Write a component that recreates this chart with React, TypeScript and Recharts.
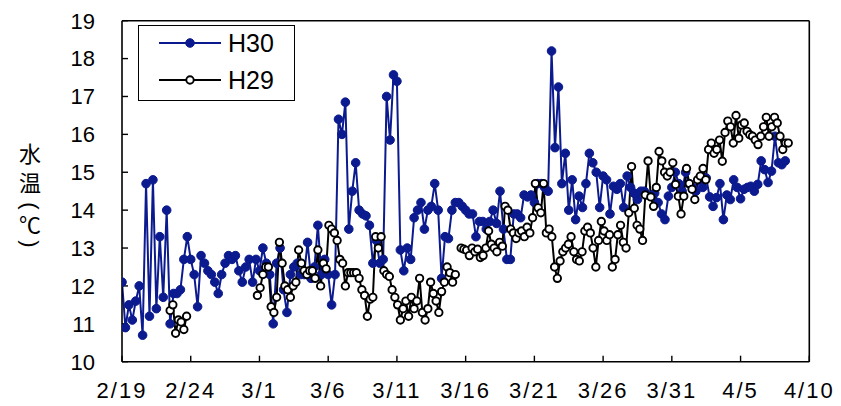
import React from 'react';
import { LineChart, Line, XAxis, YAxis } from 'recharts';

// x axis: days counted from 2/19
const DATE_LABELS = ['2/19', '2/24', '3/1', '3/6', '3/11', '3/16', '3/21', '3/26', '3/31', '4/5', '4/10'];
const X_TICKS = [0, 5, 10, 15, 20, 25, 30, 35, 40, 45, 50];
const Y_TICKS = [10, 11, 12, 13, 14, 15, 16, 17, 18, 19];

// H30: readings every 6 hours starting 2/19
const H30_START = 0;
const H30_STEP = 0.25;
const H30 = [
  12.1, 10.9, 11.5, 11.1, 11.6, 12.0, 10.7, 14.7, 11.2, 14.8,
  11.4, 13.3, 11.7, 14.0, 11.0, 11.8, 11.8, 11.9, 12.7, 13.3,
  12.7, 12.3, 11.45, 12.8, 12.6, 12.4, 12.3, 12.1, 11.8, 12.3,
  12.6, 12.8, 12.7, 12.8, 12.4, 12.1, 12.5, 12.7, 12.1, 12.7,
  12.4, 13.0, 12.6, 12.3, 11.0, 12.6, 13.0, 11.9, 11.3, 12.3,
  12.5, 12.6, 12.3, 12.3, 13.15, 12.2, 12.5, 13.6, 12.3, 12.7,
  12.3, 11.5, 12.3, 16.4, 16.0, 16.85, 13.5, 14.5, 15.25, 14.0,
  13.9, 13.85, 13.6, 12.6, 13.2, 12.6, 12.7, 17.0, 15.85, 17.57,
  17.4, 12.95, 12.4, 13.0, 12.7, 13.8, 14.0, 14.2, 13.5, 14.0,
  14.1, 14.7, 14.0, 12.2, 13.3, 13.25, 14.0, 14.2, 14.2, 14.1,
  14.0, 13.9, 13.9, 13.3, 13.7, 13.7, 13.5, 13.7, 14.0, 13.65,
  14.5, 13.5, 12.7, 12.7, 13.9, 13.9, 13.8, 14.4, 14.35, 14.4,
  14.2, 14.7, 14.7, 14.6, 14.5, 18.2, 15.65, 17.25, 14.7, 15.5,
  14.0, 14.8, 13.75, 14.37, 14.07, 14.7, 15.5, 15.25, 15.0, 14.07,
  14.9, 14.8, 13.9, 14.63, 14.55, 14.7, 14.07, 14.9, 14.6, 14.45,
  14.28, 14.5, 14.5, 14.4, 14.37, 14.45, 14.2, 13.9, 13.75, 14.37,
  14.6, 15.0, 14.7, 14.5, 15.0, 14.7, 14.6, 14.5, 14.8, 14.6,
  14.85, 14.35, 14.1, 14.33, 14.7, 13.75, 14.4, 14.28, 14.8, 14.6,
  14.3, 14.55, 14.6, 14.63, 14.5, 14.68, 15.3, 15.07, 14.73, 15.03,
  15.95, 15.25, 15.2, 15.3,
];

// H29: readings in three runs (gaps between them)
const H29_STEP = 0.2;
const H29_A_START = 3.5;
const H29_A = [11.35, 11.5, 10.75, 11.1, 11.05, 10.85, 11.2];
const H29_B_START = 9.85;
const H29_B = [
  11.75, 11.95, 12.3, 12.5, 12.5, 11.45, 11.3, 11.7, 13.15, 12.6,
  12.0, 11.9, 11.7, 12.0, 12.1, 12.95, 12.6, 12.4, 12.3, 12.4,
  12.4, 12.2, 12.95, 12.0, 12.6, 12.45, 13.6, 13.5, 13.4, 13.2,
  12.7, 12.6, 12.0, 12.35, 12.35, 12.35, 12.35, 12.2, 11.9, 11.75,
  11.2, 11.65, 11.7, 13.3, 13.0, 13.3, 12.4, 12.3, 12.25, 11.9,
  11.7, 11.5, 11.1, 11.4, 11.6, 11.2, 11.7, 11.4, 11.6, 12.2,
  11.3, 11.1, 11.4, 12.1, 11.8, 11.6, 11.3, 11.85, 12.1, 12.5,
  12.35, 12.1, 12.3,
];
const H29_C_START = 24.67;
const H29_C = [
  13.0, 12.97, 12.94, 12.8, 13.0, 12.9, 12.97, 12.75, 12.8, 13.0,
  13.45, 13.1, 13.0, 12.9, 13.15, 13.05, 14.1, 14.0, 13.5, 13.4,
  13.25, 13.4, 13.45, 13.3, 13.55, 13.4,
  13.8, 14.7, 14.06, 13.93, 14.7, 13.4, 13.5, 13.3, 12.5, 12.2,
  12.66, 12.9, 13.0, 13.1, 13.3, 12.9, 12.7, 12.66, 12.9, 13.45,
  13.55, 13.4, 13.0, 12.5, 13.2, 13.7, 13.45, 13.2, 13.35, 12.5,
  12.7, 13.35, 13.6, 13.15, 13.0, 13.93, 15.15, 14.05, 13.6, 13.5,
  13.2, 14.4, 15.3, 14.35, 14.1, 14.6, 15.55, 15.3, 15.0, 14.9, 15.0,
  15.25, 14.68, 14.37, 13.9, 14.37, 15.1, 14.7, 14.55, 14.28, 14.8,
  14.9, 15.1, 14.8, 15.6, 15.77, 15.5, 15.6, 15.85, 15.29, 16.05,
  16.35, 16.2, 15.77, 16.5, 15.9, 16.25, 16.3, 16.08, 15.99, 15.95,
  15.85, 15.73, 15.95, 16.2, 16.45, 15.95, 16.2, 16.45, 16.3, 15.95,
  15.6, 15.77, 15.77,
];

const BLUE = '#0b1a8e';

type Row = { day: number; v: number | null };

const run = (start: number, step: number, vals: number[]): Row[] =>
  vals.map((v, i) => ({ day: +(start + i * step).toFixed(4), v }));

const h30Data: Row[] = run(H30_START, H30_STEP, H30);

const h29A = run(H29_A_START, H29_STEP, H29_A);
const h29B = run(H29_B_START, H29_STEP, H29_B);
const h29C = run(H29_C_START, H29_STEP, H29_C);
const h29Data: Row[] = [
  ...h29A,
  { day: (h29A[h29A.length - 1].day + h29B[0].day) / 2, v: null },
  ...h29B,
  { day: (h29B[h29B.length - 1].day + h29C[0].day) / 2, v: null },
  ...h29C,
];

const FONT = 'Liberation Sans, Arial, sans-serif';
const tickFont = { fontFamily: FONT, fill: '#000' };

export default function App() {
  return (
    <div style={{ position: 'absolute', left: 0, top: 0, width: 841, height: 406, background: '#fff' }}>
      <LineChart
        width={841}
        height={406}
        margin={{ top: 19.7, right: 30.7, bottom: 4.3, left: 62 }}
      >
        <XAxis
          xAxisId="main"
          type="number"
          dataKey="day"
          domain={[0, 50]}
          ticks={X_TICKS}
          allowDataOverflow
          tickFormatter={(d: number) => DATE_LABELS[X_TICKS.indexOf(d)] ?? ''}
          height={40}
          tickSize={-6}
          tickMargin={27}
          axisLine={{ stroke: '#000', strokeWidth: 1.6 }}
          tickLine={{ stroke: '#000', strokeWidth: 1.4 }}
          tick={{ ...tickFont, fontSize: 22, letterSpacing: 2 }}
          interval={0}
        />
        <XAxis
          xAxisId="top"
          orientation="top"
          type="number"
          dataKey="day"
          domain={[0, 50]}
          height={1}
          tick={false}
          tickLine={false}
          axisLine={{ stroke: '#000', strokeWidth: 1.6 }}
        />
        <YAxis
          yAxisId="main"
          type="number"
          domain={[10, 19]}
          ticks={Y_TICKS}
          allowDataOverflow
          width={60}
          tickSize={-6}
          tickMargin={33}
          axisLine={{ stroke: '#000', strokeWidth: 1.6 }}
          tickLine={{ stroke: '#000', strokeWidth: 1.4 }}
          tick={{ ...tickFont, fontSize: 22 }}
          interval={0}
        />
        <YAxis
          yAxisId="right"
          orientation="right"
          type="number"
          domain={[10, 19]}
          width={1}
          tick={false}
          tickLine={false}
          axisLine={{ stroke: '#000', strokeWidth: 1.6 }}
        />
        <Line
          xAxisId="main"
          yAxisId="main"
          data={h30Data}
          dataKey="v"
          name="H30"
          type="linear"
          stroke={BLUE}
          strokeWidth={2}
          dot={{ r: 4.3, fill: BLUE, stroke: BLUE, strokeWidth: 1 }}
          activeDot={false}
          isAnimationActive={false}
        />
        <Line
          xAxisId="main"
          yAxisId="main"
          data={h29Data}
          dataKey="v"
          name="H29"
          type="linear"
          stroke="#000"
          strokeWidth={2}
          dot={{ r: 3.7, fill: '#fff', stroke: '#000', strokeWidth: 1.9 }}
          activeDot={false}
          connectNulls={false}
          isAnimationActive={false}
        />
      </LineChart>

      {/* legend */}
      <div
        style={{
          position: 'absolute',
          left: 138,
          top: 25,
          width: 157,
          height: 76,
          border: '1.6px solid #000',
          background: '#fff',
          boxSizing: 'border-box',
        }}
      >
        <svg width={157} height={76} style={{ position: 'absolute', left: -1.6, top: -1.6 }}>
          <line x1={22} y1={19} x2={84} y2={19} stroke={BLUE} strokeWidth={2} />
          <circle cx={53} cy={19} r={4.3} fill={BLUE} stroke={BLUE} />
          <line x1={22} y1={56} x2={84} y2={56} stroke="#000" strokeWidth={2} />
          <circle cx={53} cy={56} r={3.7} fill="#fff" stroke="#000" strokeWidth={1.9} />
          <text x={91} y={28} fontSize={25} fontFamily={FONT} fill="#000">H30</text>
          <text x={91} y={65} fontSize={25} fontFamily={FONT} fill="#000">H29</text>
        </svg>
      </div>

      {/* y axis title, vertical */}
      <svg width={60} height={406} style={{ position: 'absolute', left: 0, top: 0 }}>
        <g fill="#000" textAnchor="middle">
          <text x={30} y={162} fontSize={22} fontFamily='"Noto Sans CJK JP", sans-serif'>水</text>
          <text x={30} y={191} fontSize={22} fontFamily='"Noto Sans CJK JP", sans-serif'>温</text>
          <text x={30} y={206} fontSize={22} fontFamily={FONT} dominantBaseline="central" transform="rotate(90 30 206)">(</text>
          <text x={30} y={233} fontSize={22} fontFamily='"Noto Sans CJK JP", sans-serif'>℃</text>
          <text x={30} y={244} fontSize={22} fontFamily={FONT} dominantBaseline="central" transform="rotate(90 30 244)">)</text>
        </g>
      </svg>
    </div>
  );
}
